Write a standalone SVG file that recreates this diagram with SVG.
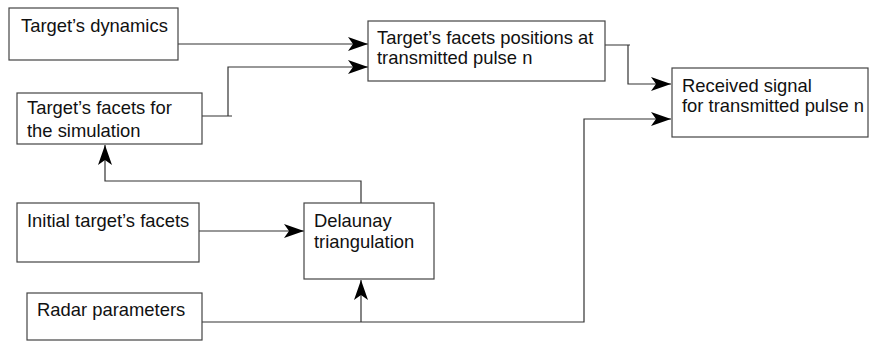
<svg xmlns="http://www.w3.org/2000/svg" width="869" height="341" viewBox="0 0 869 341">
<style>
.box{fill:#fff;stroke:#444;stroke-width:1.2}
.lbl{font-family:"Liberation Sans",Arial,sans-serif;font-size:18.4px;fill:#111}
.ln{fill:none;stroke:#333;stroke-width:1.2}
</style>
<defs>
<marker id="ah" markerUnits="userSpaceOnUse" markerWidth="22" markerHeight="16" refX="20" refY="7" orient="auto" viewBox="0 0 22 16">
<path d="M0,0 L20,7 L0,14 L5,7 Z" fill="#000"/>
</marker>
</defs>
<rect width="869" height="341" fill="#fff"/>
<g id="connectors">
<path class="ln" d="M178,44 H368" marker-end="url(#ah)"/>
<path class="ln" d="M202,116 H232 M228,116 V67 H368" marker-end="url(#ah)"/>
<path class="ln" d="M605,45 H630 M628,45 V84 H671" marker-end="url(#ah)"/>
<path class="ln" d="M202,322 H584 V119 H671" marker-end="url(#ah)"/>
<path class="ln" d="M199,231 H304" marker-end="url(#ah)"/>
<path class="ln" d="M361,322 V280" marker-end="url(#ah)"/>
<path class="ln" d="M361,203 V181 H105 V145" marker-end="url(#ah)"/>
</g>
<g id="n-dynamics">
<rect class="box" x="9" y="8" width="169" height="52"/>
<text class="lbl" x="21" y="32">Target’s dynamics</text>
</g>
<g id="n-facets-sim">
<rect class="box" x="17" y="93" width="185" height="51"/>
<text class="lbl" x="27" y="114">Target’s facets for</text>
<text class="lbl" x="27" y="137">the simulation</text>
</g>
<g id="n-positions">
<rect class="box" x="368" y="21" width="237" height="60"/>
<text class="lbl" x="377" y="44">Target’s facets positions at</text>
<text class="lbl" x="377" y="64">transmitted pulse n</text>
</g>
<g id="n-received">
<rect class="box" x="672" y="68" width="196" height="69"/>
<text class="lbl" x="682" y="92">Received signal</text>
<text class="lbl" x="682" y="112">for transmitted pulse n</text>
</g>
<g id="n-initial">
<rect class="box" x="17" y="203" width="182" height="59"/>
<text class="lbl" x="27" y="227">Initial target’s facets</text>
</g>
<g id="n-delaunay">
<rect class="box" x="304" y="203" width="130" height="76"/>
<text class="lbl" x="314" y="227">Delaunay</text>
<text class="lbl" x="314" y="248">triangulation</text>
</g>
<g id="n-radar">
<rect class="box" x="27" y="293" width="175" height="47"/>
<text class="lbl" x="37" y="316">Radar parameters</text>
</g>
</svg>
